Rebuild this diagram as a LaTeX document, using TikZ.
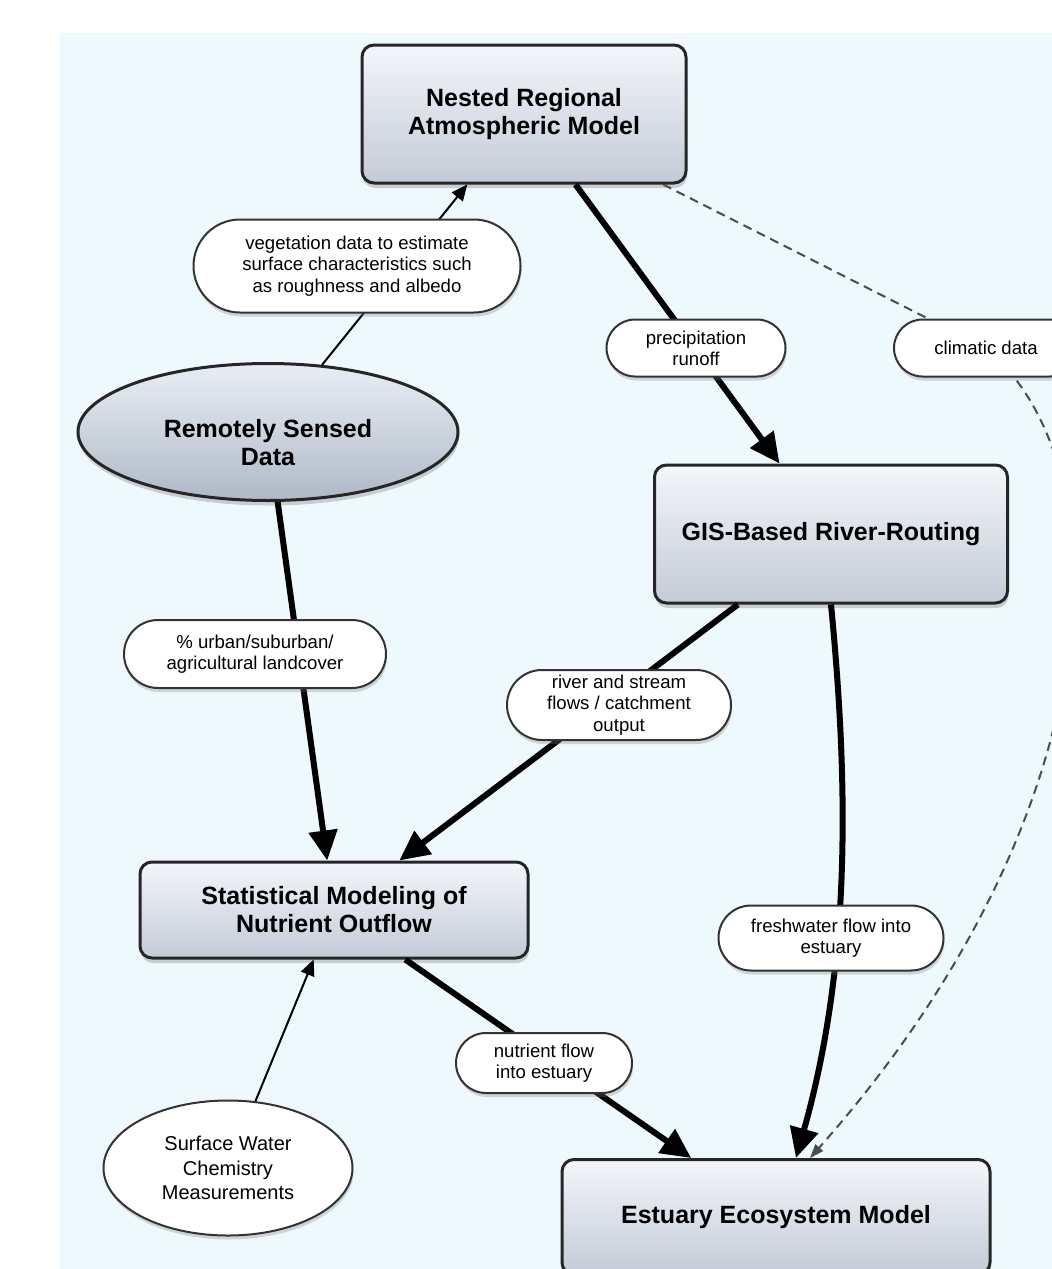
\documentclass[tikz,border=0pt]{standalone}
\usepackage{fontspec}
\setmainfont{Liberation Sans}
\usetikzlibrary{shapes.geometric, shapes.misc, arrows.meta, shadows}
\definecolor{bgblue}{HTML}{EEF9FD}
\definecolor{boxtop}{HTML}{F3F6FA}
\definecolor{boxbot}{HTML}{C3CBD7}
\definecolor{elltop}{HTML}{E8EEF4}
\definecolor{ellbot}{HTML}{AFB9C7}
\tikzset{
	box/.style={draw=black!85, line width=1.5pt, rounded corners=6pt, top color=boxtop, bottom color=boxbot,
		drop shadow={shadow xshift=0.5pt, shadow yshift=-2.5pt, opacity=0.35}, align=center,
		font=\fontsize{12.5}{14}\selectfont\bfseries},
	bigell/.style={ellipse, draw=black!85, line width=1.5pt, top color=elltop, bottom color=ellbot, inner sep=0pt,
		drop shadow={shadow xshift=0.5pt, shadow yshift=-2.5pt, opacity=0.35}, align=center,
		font=\fontsize{12.5}{14}\selectfont\bfseries},
	smallell/.style={ellipse, draw=black!80, line width=1pt, fill=white, inner sep=0pt,
		drop shadow={shadow xshift=0.5pt, shadow yshift=-2pt, opacity=0.3}, align=center,
		font=\fontsize{10}{12.3}\selectfont},
	pill/.style={rounded rectangle, draw=black!80, line width=1pt, fill=white, inner xsep=2pt, inner ysep=1pt,
		drop shadow={shadow xshift=0.5pt, shadow yshift=-2pt, opacity=0.3}, align=center,
		font=\fontsize{9.3}{10.6}\selectfont},
	bigarrow/.style={line width=3pt, -{Triangle[length=15pt,width=14pt]}},
	thinarrow/.style={line width=1pt, -{Triangle[length=8pt,width=7pt]}},
	dashline/.style={line width=1pt, black!70, dash pattern=on 4.5pt off 3pt}
}
\begin{document}
\begin{tikzpicture}[x=0.5pt, y=-0.5pt]
	\useasboundingbox (0,0) rectangle (1052,1269);
	\fill[bgblue] (60,33) rectangle (1052,1269); %背景
	\node[box, minimum width=162pt, minimum height=69pt] (nested) at (524,114) {Nested Regional\\Atmospheric Model};
	\node[bigell, minimum width=190pt, minimum height=68.5pt] (rsd) at (268,432)
		{\raisebox{-10pt}[0pt][0pt]{\begin{tabular}{@{}c@{}}Remotely Sensed\\Data\end{tabular}}};
	\node[box, minimum width=176.5pt, minimum height=69pt] (gis) at (831,534) {GIS-Based River-Routing};
	\node[box, minimum width=194pt, minimum height=48pt] (stat) at (334,910) {Statistical Modeling of\\Nutrient Outflow};
	\node[box, minimum width=214pt, minimum height=57.5pt] (est) at (776,1217) {Estuary Ecosystem Model};
	\node[smallell, minimum width=124.5pt, minimum height=67.5pt] (swc) at (228,1168) {Surface Water\\Chemistry\\Measurements};
	\coordinate (climpos) at (986,348);
	% 矢印
	\draw[thinarrow] (rsd) -- (nested);
	\draw[bigarrow] (nested) -- (gis);
	\draw[dashline] (nested) -- (climpos);
	\draw[dashline, -{Triangle[length=7pt,width=5pt]}] (climpos) .. controls (1130,470) and (1110,820) .. ([xshift=17pt]est.north);
	\draw[bigarrow] (gis) -- (stat);
	\draw[bigarrow] (rsd) -- (stat);
	\draw[bigarrow] (gis.south) .. controls (848,780) and (852,960) .. ([xshift=10pt]est.north);
	\draw[bigarrow] (stat) -- (est);
	\draw[thinarrow] (swc) -- (stat);
	% ラベル
	\node[pill, minimum width=167.5pt, minimum height=46.5pt] (veg) at (357,266) {vegetation data to estimate\\surface characteristics such\\as roughness and albedo};
	\node[pill, minimum width=93.5pt, minimum height=28.5pt] (precip) at (696,348) {precipitation\\runoff};
	\node[pill, minimum width=96pt, minimum height=28.5pt] (climatic) at (climpos) {climatic data};
	\node[pill, minimum width=135pt, minimum height=34pt] (urban) at (255,654) {\% urban/suburban/\\agricultural landcover};
	\node[pill, minimum width=116pt, minimum height=35pt] (river) at (619,705) {river and stream\\flows / catchment\\output};
	\node[pill, minimum width=116.5pt, minimum height=32.5pt] (fresh) at (831,938) {freshwater flow into\\estuary};
	\node[pill, minimum width=92pt, minimum height=30pt] (nutr) at (544,1063) {nutrient flow\\into estuary};
\end{tikzpicture}
\end{document}
